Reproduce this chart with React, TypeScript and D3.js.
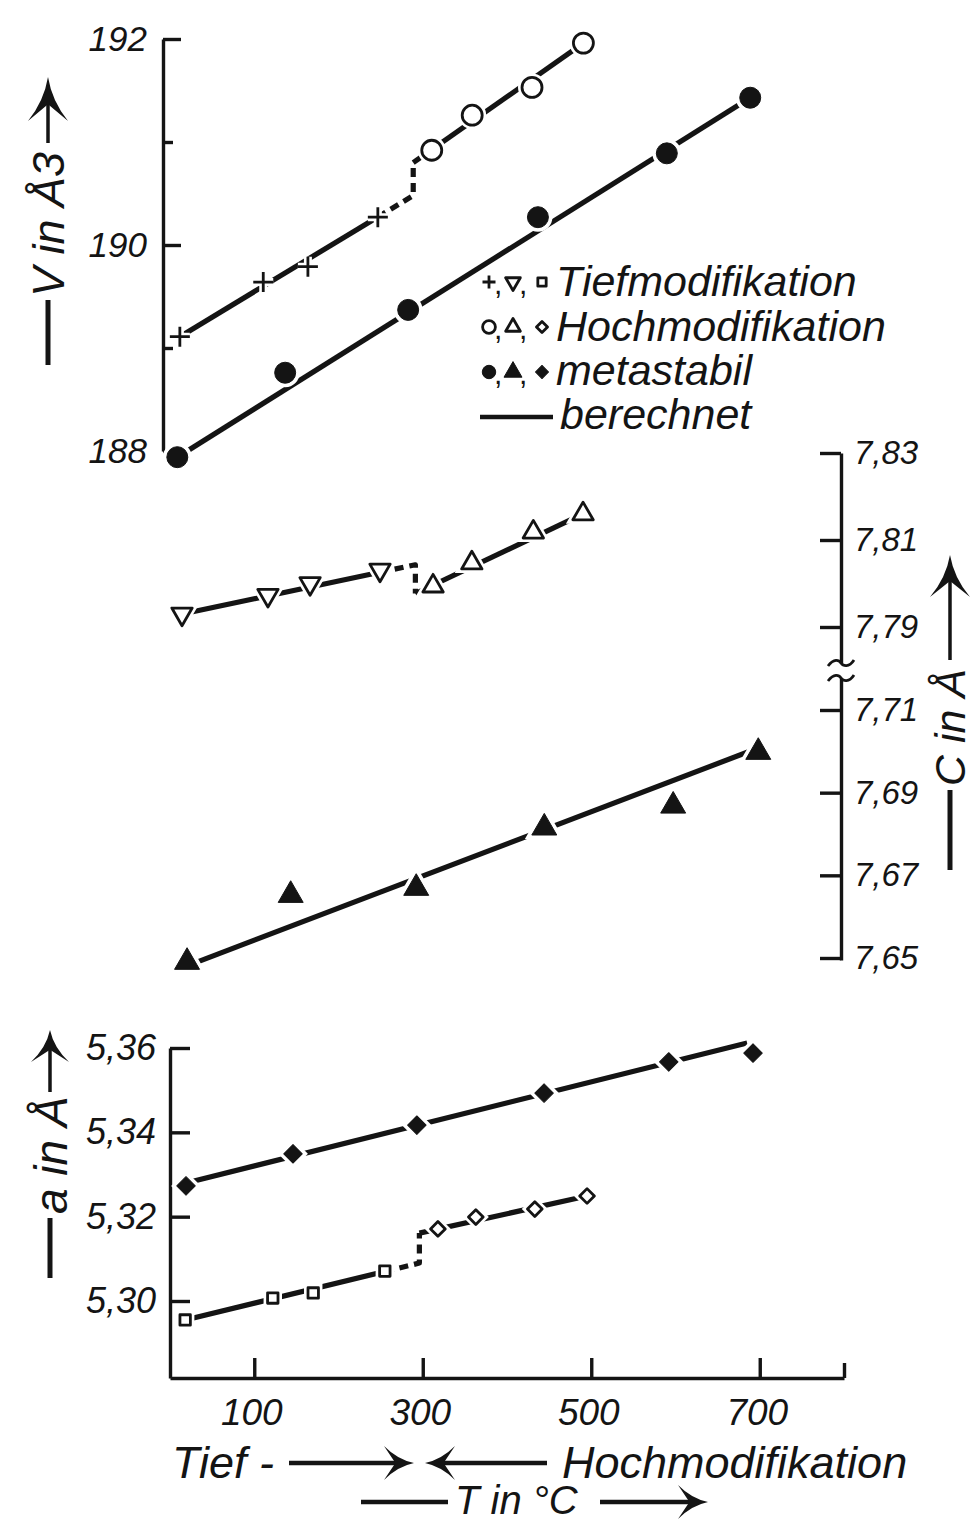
import React, { useEffect, useRef } from "react";
import * as d3 from "d3";

// Temperatures in °C and lattice values
// V in Å3 (top panel)
const vTiefT = [20, 119, 172, 255];
const vTief = [189.11, 189.64, 189.79, 190.27];
const vHochT = [319, 367, 438, 499];
const vHoch = [190.92, 191.26, 191.53, 191.96];
const vMetaT = [17, 145, 291, 445, 598, 697];
const vMeta = [187.94, 188.76, 189.37, 190.27, 190.89, 191.43];

// c in Å (middle panel)
const cTiefT = [19, 121, 171, 254];
const cTief = [7.793, 7.7973, 7.8, 7.8031];
const cHochT = [317, 363, 436, 495];
const cHoch = [7.7994, 7.8047, 7.8118, 7.816];
const cMetaT = [25, 148, 297, 449, 602, 703];
const cMeta = [7.649, 7.6652, 7.6669, 7.6815, 7.6868, 7.6998];

// a in Å (bottom panel)
const aTiefT = [18, 122, 170, 255];
const aTief = [5.2955, 5.3007, 5.3019, 5.3071];
const aHochT = [318, 363, 433, 495];
const aHoch = [5.3171, 5.3199, 5.3218, 5.3249];
const aMetaT = [19, 146, 293, 444, 592, 692];
const aMeta = [5.3273, 5.3349, 5.3417, 5.3493, 5.3567, 5.3588];

// "berechnet" lines, [T, value] at both ends (Tief ends at the transition)
const vCalcTief = [[20, 189.11], [297, 190.48]];
const vCalcHoch = [[297, 190.8], [499, 191.96]];
const vCalcMeta = [[17, 187.94], [697, 191.43]];
const cCalcTief = [[19, 7.793], [296, 7.8043]];
const cCalcHoch = [[296, 7.7977], [495, 7.816]];
const cCalcMeta = [[25, 7.6481], [703, 7.7008]];
const aCalcTief = [[18, 5.2955], [296, 5.309]];
const aCalcHoch = [[296, 5.3161], [495, 5.3249]];
const aCalcMeta = [[19, 5.328], [685, 5.3612]];

// tick values
const tempTicks = [100, 300, 500, 700, 800];
const vTicks = [188, 189, 190, 191, 192];
const cTicksHigh = [7.79, 7.81, 7.83];
const cTicksLow = [7.65, 7.67, 7.69, 7.71];
const aTicks = [5.3, 5.32, 5.34, 5.36];

const legendLabels = ["Tiefmodifikation", "Hochmodifikation", "metastabil", "berechnet"];

const INK = "#141414";
const FONT = "'Liberation Sans', Arial, sans-serif";
const LW = 5.2;

const fmtComma = d3.formatLocale({ decimal: ",", thousands: ".", grouping: [3], currency: ["", ""] }).format(".2f");

function markerPath(kind: string, k = 1) {
  if (kind === "cross") return `M${-10 * k},0H${10 * k}M0,${-10 * k}V${10 * k}`;
  if (kind === "circle") return d3.symbol(d3.symbolCircle, Math.PI * 100 * k * k)();
  if (kind === "dot") return d3.symbol(d3.symbolCircle, Math.PI * 110 * k * k)();
  if (kind === "triDown" || kind === "triUp") return d3.symbol(d3.symbolTriangle, 180 * k * k)();
  if (kind === "triFill") return d3.symbol(d3.symbolTriangle, 270 * k * k)();
  if (kind === "square") return d3.symbol(d3.symbolSquare, 170 * k * k)();
  if (kind === "diamond") return d3.symbol(d3.symbolSquare, 150 * k * k)();
  return d3.symbol(d3.symbolSquare, 210 * k * k)();
}

function drawMarkers(g: any, pts: number[][], kind: string, k = 1, halo = true) {
  const d = markerPath(kind, k);
  const rot = kind === "triDown" ? 180 : kind.startsWith("diamond") ? 45 : 0;
  const filled = kind === "dot" || kind === "triFill" || kind === "diamondFill";
  const tr = (p: number[]) => `translate(${p[0]},${p[1]}) rotate(${rot})`;
  const mg = g.append("g");
  if (halo) {
    mg.selectAll(null).data(pts).join("path")
      .attr("d", d).attr("transform", tr)
      .attr("fill", kind === "cross" ? "none" : "#fff")
      .attr("stroke", "#fff").attr("stroke-width", 8);
  }
  mg.selectAll(null).data(pts).join("path")
    .attr("d", d).attr("transform", tr)
    .attr("fill", filled ? INK : kind === "cross" ? "none" : "#fff")
    .attr("stroke", INK)
    .attr("stroke-width", filled ? 1 : 2.8)
    .attr("stroke-linejoin", "round");
}

function arrowHead(g: any, x: number, y: number, angle: number, L: number, W: number) {
  g.append("path")
    .attr("d", `M0,0 Q${-0.55 * L},${0.2 * W} ${-L},${W} L${-0.62 * L},0 L${-L},${-W} Q${-0.55 * L},${-0.2 * W} 0,0 Z`)
    .attr("transform", `translate(${x},${y}) rotate(${angle})`)
    .attr("fill", INK);
}

// vertical axis title: — text ——>, read from bottom to top
function sideTitle(svg: any, ox: number, oy: number, lineEnd: number, textStart: number,
  shaftStart: number, tip: number, L: number, W: number, text: string, size: number) {
  const g = svg.append("g").attr("transform", `translate(${ox},${oy}) rotate(-90)`);
  g.append("line").attr("x1", 0).attr("x2", lineEnd).attr("y1", 0).attr("y2", 0)
    .attr("stroke", INK).attr("stroke-width", 5);
  g.append("text").attr("x", textStart).attr("y", size * 0.36)
    .attr("font-family", FONT).attr("font-style", "italic").attr("font-size", size)
    .attr("fill", INK).text(text);
  g.append("line").attr("x1", shaftStart).attr("x2", tip - L * 0.6).attr("y1", 0).attr("y2", 0)
    .attr("stroke", INK).attr("stroke-width", 3.5);
  arrowHead(g, tip, 0, 0, L, W);
}

function styleAxis(g: any, size: number) {
  g.attr("font-family", FONT).attr("font-size", size).attr("font-style", "italic").attr("color", INK);
  g.selectAll("path,line").attr("stroke-width", 3.4);
}

function calcLines(g: any, x: any, yT: any, yH: any, tief: number[][], hoch: number[][], lastTief: number) {
  const tLine = d3.scaleLinear().domain([tief[0][0], tief[1][0]]).range([tief[0][1], tief[1][1]]);
  const line = d3.line();
  const tr = tief[1][0];
  g.append("path")
    .attr("d", line([[x(tief[0][0]), yT(tief[0][1])], [x(lastTief), yT(tLine(lastTief))]]))
    .attr("fill", "none").attr("stroke", INK).attr("stroke-width", LW);
  g.append("path")
    .attr("d", line([[x(lastTief), yT(tLine(lastTief))], [x(tr), yT(tief[1][1])], [x(tr), yH(hoch[0][1])]]))
    .attr("fill", "none").attr("stroke", INK).attr("stroke-width", LW)
    .attr("stroke-dasharray", "9,6").attr("stroke-linejoin", "round");
  g.append("path")
    .attr("d", line(hoch.map((p) => [x(p[0]), yH(p[1])])))
    .attr("fill", "none").attr("stroke", INK).attr("stroke-width", LW);
}

function metaLine(g: any, x: any, y: any, calc: number[][]) {
  g.append("path")
    .attr("d", d3.line()(calc.map((p) => [x(p[0]), y(p[1])])))
    .attr("fill", "none").attr("stroke", INK).attr("stroke-width", LW);
}

const pts = (x: any, y: any, ts: number[], vs: number[]) => ts.map((t, i) => [x(t), y(vs[i])]);

export default function App() {
  const ref = useRef<SVGSVGElement>(null);

  useEffect(() => {
    const svg = d3.select(ref.current);
    svg.selectAll("*").remove();
    svg.append("rect").attr("width", 980).attr("height", 1522).attr("fill", "#fff");

    const xTop = d3.scaleLinear().domain([0, 800]).range([163, 837]);
    const xMid = d3.scaleLinear().domain([0, 800]).range([166, 840]);
    const xBot = d3.scaleLinear().domain([0, 800]).range([170, 844]);
    const yV = d3.scaleLinear().domain([188, 192]).range([451, 39]);
    const yCHigh = d3.scaleLinear().domain([7.79, 7.83]).range([627, 453]);
    const yCLow = d3.scaleLinear().domain([7.65, 7.71]).range([958, 710]);
    const yA = d3.scaleLinear().domain([5.3, 5.36]).range([1301, 1048]);

    // ---- axes
    const vAxis = svg.append("g").attr("transform", "translate(163,0)")
      .call(d3.axisLeft(yV).tickValues(vTicks).tickSize(-17).tickSizeOuter(0).tickPadding(16)
        .tickFormat((d: any) => (d % 2 === 0 ? d3.format("d")(d) : "")));
    styleAxis(vAxis, 35);
    vAxis.selectAll(".tick line").attr("x2", (d: any) => (d % 2 === 0 ? 18 : 10));

    const cHighScale = d3.scaleLinear().domain([yCHigh.invert(663), 7.83]).range([663, yCHigh(7.83)]);
    const cLowScale = d3.scaleLinear().domain([yCLow.invert(960), yCLow.invert(678)]).range([960, 678]);
    [cHighScale, cLowScale].forEach((sc, i) => {
      const ax = svg.append("g").attr("transform", "translate(841,0)")
        .call(d3.axisRight(sc).tickValues(i === 0 ? cTicksHigh : cTicksLow).tickSize(-21)
          .tickSizeOuter(0).tickPadding(13).tickFormat(fmtComma as any));
      styleAxis(ax, 33);
    });
    // axis break
    [663, 678].forEach((yy) => {
      svg.append("path")
        .attr("d", `M${841 - 13},${yy + 3} C${841 - 7},${yy - 5} ${841 - 2},${yy - 3} ${841},${yy} S${841 + 8},${yy + 5} ${841 + 13},${yy - 3}`)
        .attr("fill", "none").attr("stroke", INK).attr("stroke-width", 2.8);
    });

    const aAxisScale = d3.scaleLinear().domain([yA.invert(1378), 5.36]).range([1378, 1048]);
    const aAxis = svg.append("g").attr("transform", "translate(170,0)")
      .call(d3.axisLeft(aAxisScale).tickValues(aTicks).tickSize(-20).tickSizeOuter(0)
        .tickPadding(14).tickFormat(fmtComma as any));
    styleAxis(aAxis, 36);

    const tAxis = svg.append("g").attr("transform", "translate(0,1378)")
      .call(d3.axisBottom(xBot).tickValues(tempTicks).tickSize(-20).tickSizeOuter(0)
        .tickPadding(21).tickFormat((d: any) => (d === 800 ? "" : d3.format("d")(d))));
    styleAxis(tAxis, 37);
    tAxis.selectAll(".tick line").attr("y2", (d: any) => (d === 800 ? -15 : -20));
    tAxis.selectAll(".tick text").attr("dx", -3);

    // ---- berechnet lines
    const lines = svg.append("g");
    metaLine(lines, xTop, yV, vCalcMeta);
    calcLines(lines, xTop, yV, yV, vCalcTief, vCalcHoch, vTiefT[vTiefT.length - 1]);
    metaLine(lines, xMid, yCLow, cCalcMeta);
    calcLines(lines, xMid, yCHigh, yCHigh, cCalcTief, cCalcHoch, cTiefT[cTiefT.length - 1]);
    metaLine(lines, xBot, yA, aCalcMeta);
    calcLines(lines, xBot, yA, yA, aCalcTief, aCalcHoch, aTiefT[aTiefT.length - 1]);

    // ---- measured points
    const marks = svg.append("g");
    drawMarkers(marks, pts(xTop, yV, vTiefT, vTief), "cross");
    drawMarkers(marks, pts(xTop, yV, vHochT, vHoch), "circle");
    drawMarkers(marks, pts(xTop, yV, vMetaT, vMeta), "dot");
    drawMarkers(marks, pts(xMid, yCHigh, cTiefT, cTief), "triDown");
    drawMarkers(marks, pts(xMid, yCHigh, cHochT, cHoch), "triUp");
    drawMarkers(marks, pts(xMid, yCLow, cMetaT, cMeta), "triFill");
    drawMarkers(marks, pts(xBot, yA, aTiefT, aTief), "square", 0.8);
    drawMarkers(marks, pts(xBot, yA, aHochT, aHoch), "diamond", 0.85);
    drawMarkers(marks, pts(xBot, yA, aMetaT, aMeta), "diamondFill", 0.9);

    // ---- legend
    const leg = svg.append("g");
    const rowY = [282, 327, 372];
    const rowKinds = [["cross", "triDown", "square"], ["circle", "triUp", "diamond"], ["dot", "triFill", "diamondFill"]];
    const rowX = [489, 513, 542];
    rowKinds.forEach((kinds, r) => {
      kinds.forEach((kind, i) => {
        const k = kind === "cross" ? 0.65 : kind.startsWith("tri") ? 0.72 : 0.64;
        drawMarkers(leg, [[rowX[i], rowY[r]]], kind, k, false);
        if (i < 2) {
          leg.append("text").attr("x", rowX[i] + (i === 0 ? 5 : 6)).attr("y", rowY[r] + 12)
            .attr("font-family", FONT).attr("font-size", 30).attr("fill", INK).text(",");
        }
      });
    });
    leg.append("line").attr("x1", 480).attr("x2", 553).attr("y1", 417).attr("y2", 417)
      .attr("stroke", INK).attr("stroke-width", 4.5);
    const legBase = [296, 341, 385, 429];
    leg.selectAll(null).data(legendLabels).join("text")
      .attr("x", (d, i) => (i === 3 ? 560 : 556))
      .attr("y", (d, i) => legBase[i])
      .attr("font-family", FONT).attr("font-style", "italic").attr("font-size", 43)
      .attr("fill", INK).text((d) => d);

    // ---- axis titles
    sideTitle(svg, 48, 365, 65, 68, 222, 288, 44, 20, "V in Å3", 45);
    sideTitle(svg, 950, 870, 80, 84, 210, 315, 42, 20, "C in Å", 43);
    sideTitle(svg, 50, 1278, 60, 64, 186, 248, 32, 19, "a in Å", 46);

    const bottom = svg.append("g").attr("font-family", FONT).attr("font-style", "italic").attr("fill", INK);
    bottom.append("text").attr("x", 172).attr("y", 1478).attr("font-size", 45).text("Tief -");
    bottom.append("text").attr("x", 562).attr("y", 1478).attr("font-size", 45).text("Hochmodifikation");
    bottom.append("text").attr("x", 455).attr("y", 1514).attr("font-size", 40).text("T in °C");
    const hLine = (x1: number, x2: number, y: number) =>
      svg.append("line").attr("x1", x1).attr("x2", x2).attr("y1", y).attr("y2", y)
        .attr("stroke", INK).attr("stroke-width", 4.5);
    hLine(289, 400, 1463);
    arrowHead(svg, 414, 1463, 0, 30, 17);
    hLine(440, 547, 1463);
    arrowHead(svg, 425, 1463, 180, 30, 17);
    hLine(361, 448, 1502);
    hLine(600, 695, 1502);
    arrowHead(svg, 708, 1502, 0, 30, 17);
  }, []);

  return (
    <svg ref={ref} width={980} height={1522}
      style={{ position: "absolute", left: 0, top: 0, display: "block" }} />
  );
}
